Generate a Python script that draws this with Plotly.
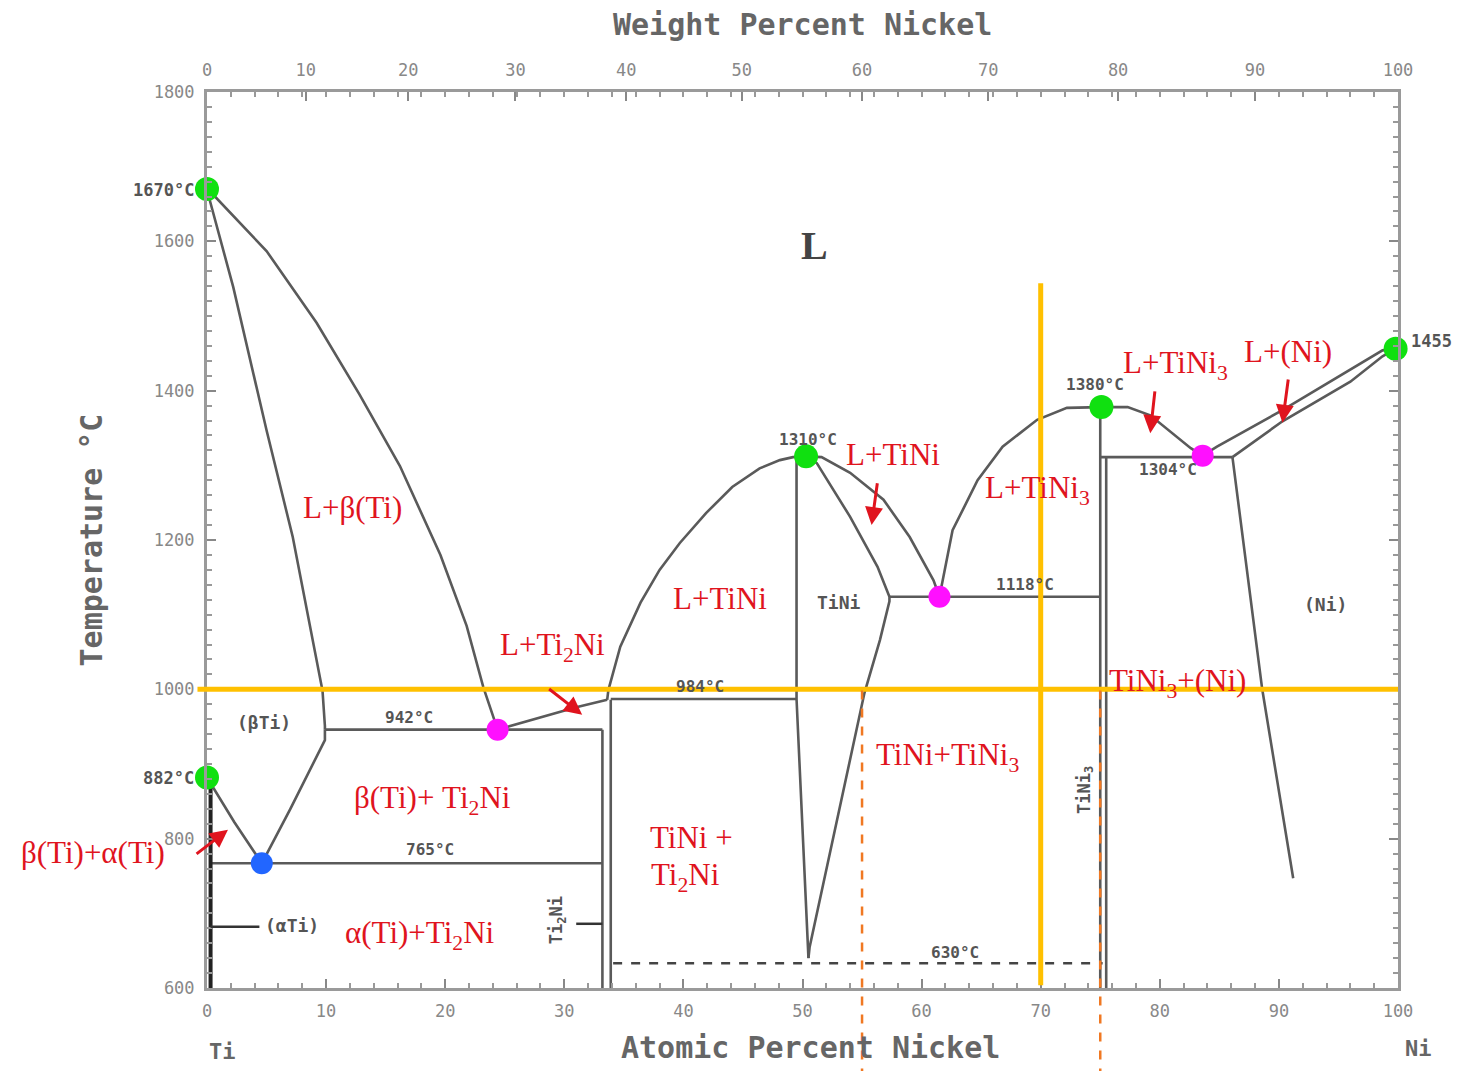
import plotly.graph_objects as go

# ---------------- data (atomic % Ni, temperature °C) ----------------
liq_beta_x = [0.0, 0.25, 5.0, 9.2, 12.8, 16.2, 19.6, 21.8, 23.2, 24.4]
liq_beta_T = [1670, 1667, 1587, 1491, 1395, 1299, 1180, 1085, 1003, 946]

sol_beta_x = [0.0, 0.25, 2.2, 5.0, 7.2, 8.9, 9.7, 9.9, 9.9]
sol_beta_T = [1670, 1654, 1539, 1347, 1204, 1061, 998, 951, 946]

beta_bound_x = [9.9, 9.9, 7.0, 4.6]
beta_bound_T = [946, 932, 840, 767]

alpha_beta_x = [0.0, 2.3, 4.6]
alpha_beta_T = [882, 822, 767]

alpha_solvus_x = [0.3, 0.3]
alpha_solvus_T = [882, 600]

eutectoid_x = [0.3, 33.2]
eutectoid_T = [767, 767]

eut942_x = [9.9, 33.2]
eut942_T = [946, 946]

liq_ti2ni_x = [24.4, 28.0, 31.0, 33.6]
liq_ti2ni_T = [946, 962, 976, 986]

ti2ni_left_x = [33.2, 33.2]
ti2ni_left_T = [946, 600]
ti2ni_right_x = [33.9, 33.9]
ti2ni_right_T = [986, 600]

peri984_x = [33.9, 49.5]
peri984_T = [987, 987]

liq_tini_left_x = [33.6, 33.7, 34.7, 36.4, 38.0, 39.7, 41.9, 44.1, 46.4, 48.1, 49.2, 50.3]
liq_tini_left_T = [986, 999, 1057, 1116, 1160, 1196, 1236, 1271, 1296, 1307, 1311, 1312]

tini_left_x = [49.5, 49.5, 50.5]
tini_left_T = [1312, 987, 640]

tini_right_x = [50.3, 51.2, 54.0, 56.3, 57.3, 57.3, 56.5, 55.2, 50.6, 50.5]
tini_right_T = [1312, 1303, 1231, 1164, 1124, 1118, 1066, 995, 655, 640]

liq_tini_right_x = [50.3, 51.6, 54.0, 56.8, 59.0, 61.0, 61.5]
liq_tini_right_T = [1312, 1311, 1290, 1254, 1204, 1146, 1124]

eut1118_x = [57.3, 75.0]
eut1118_T = [1124, 1124]

liq_tini3_left_x = [61.5, 62.6, 64.7, 66.8, 69.7, 72.2, 75.0]
liq_tini3_left_T = [1124, 1213, 1280, 1325, 1361, 1377, 1378]

tini3_a_x = [75.0, 75.0]
tini3_a_T = [1378, 600]
tini3_b_x = [75.5, 75.5]
tini3_b_T = [1311, 600]

liq_tini3_right_x = [75.0, 77.3, 79.2, 80.9, 82.6, 83.6]
liq_tini3_right_T = [1378, 1378, 1367, 1345, 1323, 1313]

eut1304_x = [75.0, 86.1]
eut1304_T = [1311, 1311]

liq_ni_x = [83.6, 84.8, 90.3, 96.0, 98.7, 99.8]
liq_ni_T = [1313, 1325, 1374, 1428, 1454, 1456]

sol_ni_x = [86.1, 90.3, 96.0, 98.7, 99.8]
sol_ni_T = [1311, 1359, 1412, 1446, 1456]

solvus_ni_x = [86.1, 87.3, 88.6, 91.2]
solvus_ni_T = [1311, 1160, 1000, 747]

eutd630_x = [34.1, 75.2]
eutd630_T = [633, 633]

green_x = [0.0, 0.0, 50.3, 75.1, 99.8]
green_T = [1670, 882, 1312, 1378, 1456]
magenta_x = [24.4, 61.5, 83.6]
magenta_T = [946, 1124, 1313]
blue_x = [4.6]
blue_T = [767]

# guide lines
guide_T = 1000
guide_x_solid = 70
guide_x_solid_top = 1544
guide_x_dashed = [55.0, 75.0]

# axes
x_ticks = [0, 10, 20, 30, 40, 50, 60, 70, 80, 90, 100]
y_ticks = [600, 800, 1000, 1200, 1400, 1600, 1800]
wt_labels = ["0", "10", "20", "30", "40", "50", "60", "70", "80", "90", "100"]
wt_pos_at = [0, 8.3, 16.9, 25.9, 35.2, 44.9, 55.0, 65.6, 76.5, 88.0, 100]

XMIN, XMAX = 0, 100
YMIN, YMAX = 600, 1800

LINE = "#5a5a5a"
fig = go.Figure()

def add_line(x, y, color=LINE, width=2.6, dash="solid"):
    fig.add_trace(go.Scatter(x=x, y=y, mode="lines",
                             line=dict(color=color, width=width, dash=dash),
                             hoverinfo="skip", showlegend=False))

for xs, ys in [
    (liq_beta_x, liq_beta_T), (sol_beta_x, sol_beta_T), (beta_bound_x, beta_bound_T),
    (alpha_beta_x, alpha_beta_T), (eutectoid_x, eutectoid_T), (eut942_x, eut942_T),
    (liq_ti2ni_x, liq_ti2ni_T), (ti2ni_left_x, ti2ni_left_T), (ti2ni_right_x, ti2ni_right_T),
    (peri984_x, peri984_T), (liq_tini_left_x, liq_tini_left_T), (tini_left_x, tini_left_T),
    (tini_right_x, tini_right_T), (liq_tini_right_x, liq_tini_right_T), (eut1118_x, eut1118_T),
    (liq_tini3_left_x, liq_tini3_left_T), (tini3_a_x, tini3_a_T), (tini3_b_x, tini3_b_T),
    (liq_tini3_right_x, liq_tini3_right_T), (eut1304_x, eut1304_T), (liq_ni_x, liq_ni_T),
    (sol_ni_x, sol_ni_T), (solvus_ni_x, solvus_ni_T)]:
    add_line(xs, ys)

add_line(alpha_solvus_x, alpha_solvus_T, color="#222222", width=4)
add_line(eutd630_x, eutd630_T, color="#444444", width=2.5, dash="dash")

def xpaper(v):
    return (v - XMIN) / (XMAX - XMIN)

def ypaper(v):
    return (v - YMIN) / (YMAX - YMIN)

shapes = [
    dict(type="line", xref="paper", yref="paper", x0=-0.008, x1=1.0,
         y0=ypaper(guide_T), y1=ypaper(guide_T), line=dict(color="#FFC000", width=5), layer="above"),
    dict(type="line", xref="paper", yref="paper", x0=xpaper(guide_x_solid), x1=xpaper(guide_x_solid),
         y0=0.003, y1=ypaper(guide_x_solid_top), line=dict(color="#FFC000", width=5), layer="above"),
]
for gx in guide_x_dashed:
    shapes.append(dict(type="line", xref="paper", yref="paper", x0=xpaper(gx), x1=xpaper(gx),
                       y0=-0.1, y1=ypaper(guide_T), line=dict(color="#F07822", width=2.5, dash="dash"),
                       layer="above"))
shapes.append(dict(type="line", xref="x", yref="y", x0=0.3, x1=4.4, y0=682, y1=682,
                   line=dict(color="#333", width=2.5)))
shapes.append(dict(type="line", xref="x", yref="y", x0=31.0, x1=33.2, y0=686, y1=686,
                   line=dict(color="#333", width=2.5)))

fig.add_trace(go.Scatter(x=green_x, y=green_T, mode="markers", cliponaxis=False,
                         marker=dict(color="#10E010", size=24), hoverinfo="skip", showlegend=False))
fig.add_trace(go.Scatter(x=magenta_x, y=magenta_T, mode="markers", cliponaxis=False,
                         marker=dict(color="#FF10FF", size=22), hoverinfo="skip", showlegend=False))
fig.add_trace(go.Scatter(x=blue_x, y=blue_T, mode="markers", cliponaxis=False,
                         marker=dict(color="#2266FF", size=22), hoverinfo="skip", showlegend=False))
fig.add_trace(go.Scatter(x=[0, 100], y=[600, 600], xaxis="x2", mode="markers",
                         marker=dict(opacity=0), hoverinfo="skip", showlegend=False))

RED = "#E0141E"
SERIF = "Liberation Serif, Times New Roman, serif"
MONO = "DejaVu Sans Mono, monospace"
GREY = "#555555"

ann = []
def red(x, y, t, size=31):
    # x given in at% Ni; placed on paper coordinates so labels outside the axis range still show
    ann.append(dict(x=xpaper(x), y=y, xref="paper", yref="y", text=t, showarrow=False,
                    xanchor="center", yanchor="middle",
                    font=dict(family=SERIF, size=size, color=RED)))

def grey(x, y, t, size=16, xanchor="center", color=GREY):
    ann.append(dict(x=xpaper(x), y=y, xref="paper", yref="y", text="<b>" + t + "</b>", showarrow=False,
                    xanchor=xanchor, yanchor="middle", font=dict(family=MONO, size=size, color=color)))

red(12.2, 1243, "L+β(Ti)")
red(29.0, 1057, "L+Ti<sub>2</sub>Ni")
red(43.1, 1122, "L+TiNi")
red(57.6, 1314, "L+TiNi")
red(69.7, 1267, "L+TiNi<sub>3</sub>")
red(81.3, 1434, "L+TiNi<sub>3</sub>")
red(90.8, 1452, "L+(Ni)")
red(18.9, 852, "β(Ti)+ Ti<sub>2</sub>Ni")
red(17.9, 671, "α(Ti)+Ti<sub>2</sub>Ni")
red(-9.6, 781, "β(Ti)+α(Ti)")
red(40.7, 801, "TiNi +")
red(40.2, 749, "Ti<sub>2</sub>Ni")
red(62.2, 909, "TiNi+TiNi<sub>3</sub>")
red(81.5, 1008, "TiNi<sub>3</sub>+(Ni)")

grey(-0.9, 1669, "1670°C", xanchor="right", size=17)
grey(-0.9, 881, "882°C", xanchor="right", size=17)
grey(17.0, 962, "942°C")
grey(18.7, 785, "765°C")
grey(41.4, 1004, "984°C")
grey(50.5, 1334, "1310°C")
grey(68.7, 1140, "1118°C")
grey(74.6, 1408, "1380°C")
grey(80.7, 1294, "1304°C")
grey(100.9, 1467, "1455", xanchor="left", size=17)
grey(62.8, 648, "630°C")
grey(4.8, 956, "(βTi)", size=18)
grey(7.1, 684, "(αTi)", size=18)
grey(53.1, 1116, "TiNi", size=18)
grey(93.9, 1113, "(Ni)", size=18)
ann.append(dict(x=51.0, y=1595, xref="x", yref="y", text="<b>L</b>", showarrow=False,
                font=dict(family=SERIF, size=40, color="#444")))
ann.append(dict(x=29.4, y=691, xref="x", yref="y", text="<b>Ti<sub>2</sub>Ni</b>", showarrow=False,
                textangle=-90, font=dict(family=MONO, size=17, color=GREY)))
ann.append(dict(x=73.7, y=865, xref="x", yref="y", text="<b>TiNi<sub>3</sub></b>", showarrow=False,
                textangle=-90, font=dict(family=MONO, size=17, color=GREY)))

arrows = [((-1.0, 778), (1.76, 812)), ((28.6, 1002), (31.5, 966)), ((56.3, 1278), (55.8, 1220)),
          ((79.6, 1401), (79.2, 1343)), ((90.8, 1417), (90.3, 1357))]
for (tx, ty), (hx, hy) in arrows:
    ann.append(dict(x=hx, y=hy, ax=tx, ay=ty, xref="x", yref="y", axref="x", ayref="y",
                    text="", showarrow=True, arrowhead=2, arrowsize=1.2, arrowwidth=3,
                    arrowcolor=RED))

TITLE_FONT = dict(family=MONO, size=30, color="#666")
ann.append(dict(x=0.5, y=1.075, xref="paper", yref="paper", text="<b>Weight Percent Nickel</b>",
                showarrow=False, xanchor="center", yanchor="middle", font=TITLE_FONT))
ann.append(dict(x=xpaper(50.7), y=-0.066, xref="paper", yref="paper", text="<b>Atomic Percent Nickel</b>",
                showarrow=False, xanchor="center", yanchor="middle", font=TITLE_FONT))
ann.append(dict(x=-0.097, y=0.5, xref="paper", yref="paper", text="<b>Temperature °C</b>",
                showarrow=False, xanchor="center", textangle=-90, font=TITLE_FONT))
ann.append(dict(x=xpaper(1.3), y=-0.071, xref="paper", yref="paper", text="<b>Ti</b>",
                showarrow=False, xanchor="center", yanchor="middle",
                font=dict(family=MONO, size=22, color="#666")))
ann.append(dict(x=xpaper(101.7), y=-0.067, xref="paper", yref="paper", text="<b>Ni</b>",
                showarrow=False, xanchor="center", yanchor="middle",
                font=dict(family=MONO, size=22, color="#666")))

TICKFONT = dict(family=MONO, size=17, color="#888")
AX = dict(showgrid=False, zeroline=False, showline=True, linecolor="#9a9a9a", linewidth=3,
          ticks="inside", ticklen=9, tickwidth=2, tickcolor="#888", tickfont=TICKFONT)

# page body adds an 8px offset; compensate so the plot area lands where the reference has it
fig.update_layout(
    width=1452, height=1063,
    margin=dict(l=199, r=62, t=84, b=83),
    paper_bgcolor="white", plot_bgcolor="white",
    shapes=shapes, annotations=ann,
    xaxis=dict(range=[XMIN, XMAX], tickvals=x_ticks, mirror=False,
               minor=dict(dtick=2, ticklen=5, tickcolor="#999", ticks="inside"),
               ticklabelstandoff=6, **AX),
    xaxis2=dict(range=[XMIN, XMAX], overlaying="x", side="top", tickvals=wt_pos_at,
                ticktext=wt_labels, minor=dict(dtick=2, ticklen=5, tickcolor="#999", ticks="inside"),
                ticklabelstandoff=6, **AX),
    yaxis=dict(range=[YMIN, YMAX], tickvals=y_ticks, mirror="ticks",
               minor=dict(dtick=20, ticklen=5, tickcolor="#999", ticks="inside"),
               ticklabelstandoff=6, **AX),
)

fig.write_html("out.html")
